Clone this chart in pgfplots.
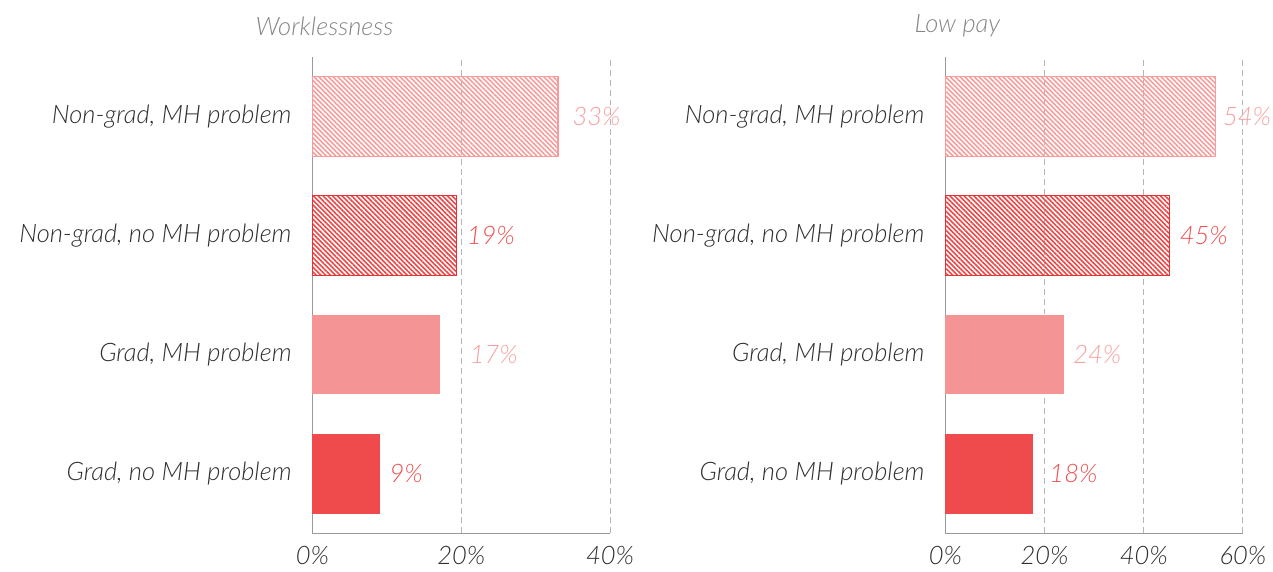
\documentclass[border=0pt]{standalone}
\usepackage{fontspec}
\setmainfont{Lato}[ItalicFont={Lato Light Italic}]
\usepackage{pgfplots}
\pgfplotsset{compat=1.18}
\usetikzlibrary{patterns.meta}

\definecolor{pinkfill}{HTML}{F59494}
\definecolor{redfill}{HTML}{EF4B4C}
\definecolor{pinkhatch}{HTML}{F79C9C}
\definecolor{redhatch}{HTML}{EE4545}
\definecolor{redborder}{HTML}{E3323A}
\definecolor{pinklab}{HTML}{F7A0A0}
\definecolor{redlab}{HTML}{EF5050}
\definecolor{axisgray}{HTML}{9A9A9A}
\definecolor{gridgray}{HTML}{B5B5B5}
\definecolor{textgray}{HTML}{2E2E2E}
\definecolor{titlegray}{HTML}{858585}

\newcommand{\chartfont}{\fontsize{12.8}{15}\selectfont\itshape}

\pgfplotsset{
  panel/.style={
    scale only axis, width=149.5pt, height=239.5pt,
    xmin=0, ymin=-0.5, ymax=3.5,
    clip=false,
    axis x line=bottom, axis y line=left,
    axis line style={-, draw=axisgray, line width=0.6pt},
    xmajorgrids,
    grid style={dash pattern=on 3pt off 2pt, draw=gridgray, line width=0.5pt},
    major tick length=0pt,
    ytick={0,1,2,3},
    yticklabels={{Grad, no MH problem},{Grad, MH problem},{Non-grad, no MH problem},{Non-grad, MH problem}},
    ticklabel style={font=\chartfont, text=textgray},
    yticklabel style={xshift=-7pt},
    xticklabel style={yshift=-3pt},
    every node near coord/.append style={anchor=west, inner sep=0pt, font=\chartfont},
  },
  hatchpink/.style={xbar, bar width=40pt, bar shift=0pt, draw=pinkhatch, line width=0.6pt,
    pattern={Lines[angle=-45, distance=1.7pt, line width=0.8pt]}, pattern color=pinkhatch},
  hatchred/.style={xbar, bar width=40pt, bar shift=0pt, draw=redborder, line width=0.6pt,
    pattern={Lines[angle=-45, distance=1.7pt, line width=0.8pt]}, pattern color=redhatch},
  solidpink/.style={xbar, bar width=40pt, bar shift=0pt, draw=none, fill=pinkfill},
  solidred/.style={xbar, bar width=40pt, bar shift=0pt, draw=none, fill=redfill},
  labs/.style={draw=none, mark=none, nodes near coords, point meta=explicit symbolic,
    every node near coord/.append style={text=#1}},
}

\begin{document}
\begin{tikzpicture}
\path (-157pt,-18.5pt) rectangle (481.5pt,268pt);

% Worklessness
\begin{axis}[panel, xmax=40, xtick={0,20,40}, xticklabels={0\%,20\%,40\%}]
\addplot[hatchpink] coordinates {(33.0,3)};
\addplot[hatchred] coordinates {(19.4,2)};
\addplot[solidpink] coordinates {(17.2,1)};
\addplot[solidred] coordinates {(9.1,0)};
\addplot[labs=pinklab] table[meta=lab] {
x y lab
34.9 3 33\%
21.1 1 17\%
};
\addplot[labs=redlab] table[meta=lab] {
x y lab
20.7 2 19\%
10.3 0 9\%
};
\node[font=\chartfont, text=titlegray] at (rel axis cs:0,1) [xshift=6pt, yshift=15.5pt] {Worklessness};
\end{axis}

% Low pay
\begin{axis}[panel, at={(318pt,0pt)}, anchor=south west, xmax=60, xtick={0,20,40,60}, xticklabels={0\%,20\%,40\%,60\%}]
\addplot[hatchpink] coordinates {(54.4,3)};
\addplot[hatchred] coordinates {(45.2,2)};
\addplot[solidpink] coordinates {(23.9,1)};
\addplot[solidred] coordinates {(17.7,0)};
\addplot[labs=pinklab] table[meta=lab] {
x y lab
55.9 3 54\%
25.7 1 24\%
};
\addplot[labs=redlab] table[meta=lab] {
x y lab
47.2 2 45\%
20.9 0 18\%
};
\node[font=\chartfont, text=titlegray] at (rel axis cs:0,1) [xshift=6pt, yshift=15.5pt] {Low pay};
\end{axis}
\end{tikzpicture}
\end{document}
